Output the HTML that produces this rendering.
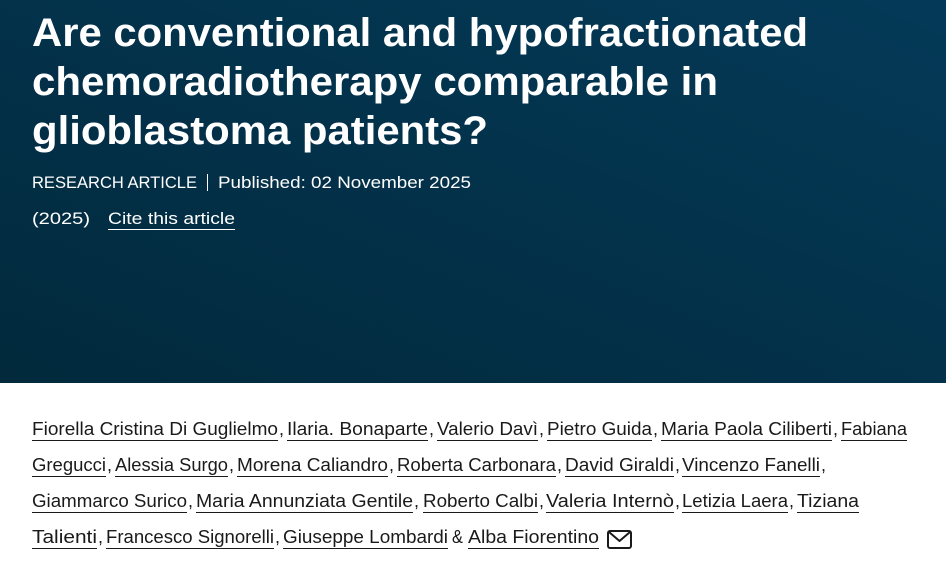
<!DOCTYPE html>
<html><head><meta charset="utf-8">
<style>
html,body{margin:0;padding:0;background:#fff;}
body{width:946px;height:569px;overflow:hidden;}
svg{display:block;}
</style></head>
<body>
<svg width="946" height="569" viewBox="0 0 946 569" xmlns="http://www.w3.org/2000/svg">
<defs>
<linearGradient id="bg" x1="0" y1="1" x2="1" y2="0">
<stop offset="0" stop-color="#02293c"/>
<stop offset="1" stop-color="#043a58"/>
</linearGradient>
</defs>
<rect x="0" y="0" width="946" height="383" fill="url(#bg)"/>
<rect x="0" y="383" width="946" height="186" fill="#fff"/>

<g font-family="'Liberation Sans', sans-serif" font-weight="bold" font-size="40" fill="#fff">
<text x="32" y="46" textLength="776" lengthAdjust="spacingAndGlyphs">Are conventional and hypofractionated</text>
<text x="32" y="95" textLength="686" lengthAdjust="spacingAndGlyphs">chemoradiotherapy comparable in</text>
<text x="32" y="144" textLength="456" lengthAdjust="spacingAndGlyphs">glioblastoma patients?</text>
</g>

<g font-family="'Liberation Sans', sans-serif" font-size="17" fill="#fff">
<text x="32" y="188" textLength="165" lengthAdjust="spacingAndGlyphs">RESEARCH ARTICLE</text>
<rect x="207" y="174" width="1" height="17" fill="#fff"/>
<text x="218" y="188" textLength="253" lengthAdjust="spacingAndGlyphs">Published: 02 November 2025</text>
<text x="32" y="224" textLength="58" lengthAdjust="spacingAndGlyphs">(2025)</text>
<text x="108" y="224" textLength="127" lengthAdjust="spacingAndGlyphs">Cite this article</text>
<rect x="108" y="229" width="127" height="1" fill="#fff"/>
</g>

<g font-family="'Liberation Sans', sans-serif" font-size="18" fill="#1a1a1a">
<!-- line 1 -->
<text x="32" y="435" textLength="246" lengthAdjust="spacingAndGlyphs">Fiorella Cristina Di Guglielmo</text>
<text x="279" y="435">,</text>
<text x="287" y="435" textLength="141" lengthAdjust="spacingAndGlyphs">Ilaria. Bonaparte</text>
<text x="429" y="435">,</text>
<text x="437" y="435" textLength="101" lengthAdjust="spacingAndGlyphs">Valerio Davì</text>
<text x="539" y="435">,</text>
<text x="547" y="435" textLength="105" lengthAdjust="spacingAndGlyphs">Pietro Guida</text>
<text x="653" y="435">,</text>
<text x="661" y="435" textLength="171" lengthAdjust="spacingAndGlyphs">Maria Paola Ciliberti</text>
<text x="833" y="435">,</text>
<text x="841" y="435" textLength="66" lengthAdjust="spacingAndGlyphs">Fabiana</text>
<!-- line 2 -->
<text x="32" y="471" textLength="74" lengthAdjust="spacingAndGlyphs">Gregucci</text>
<text x="107" y="471">,</text>
<text x="115" y="471" textLength="113" lengthAdjust="spacingAndGlyphs">Alessia Surgo</text>
<text x="229" y="471">,</text>
<text x="237" y="471" textLength="151" lengthAdjust="spacingAndGlyphs">Morena Caliandro</text>
<text x="389" y="471">,</text>
<text x="397" y="471" textLength="159" lengthAdjust="spacingAndGlyphs">Roberta Carbonara</text>
<text x="557" y="471">,</text>
<text x="565" y="471" textLength="109" lengthAdjust="spacingAndGlyphs">David Giraldi</text>
<text x="675" y="471">,</text>
<text x="682" y="471" textLength="138" lengthAdjust="spacingAndGlyphs">Vincenzo Fanelli</text>
<text x="821" y="471">,</text>
<!-- line 3 -->
<text x="32" y="507" textLength="155" lengthAdjust="spacingAndGlyphs">Giammarco Surico</text>
<text x="188" y="507">,</text>
<text x="196" y="507" textLength="217" lengthAdjust="spacingAndGlyphs">Maria Annunziata Gentile</text>
<text x="414" y="507">,</text>
<text x="423" y="507" textLength="115" lengthAdjust="spacingAndGlyphs">Roberto Calbi</text>
<text x="539" y="507">,</text>
<text x="546" y="507" textLength="128" lengthAdjust="spacingAndGlyphs">Valeria Internò</text>
<text x="675" y="507">,</text>
<text x="682" y="507" textLength="106" lengthAdjust="spacingAndGlyphs">Letizia Laera</text>
<text x="789" y="507">,</text>
<text x="797" y="507" textLength="62" lengthAdjust="spacingAndGlyphs">Tiziana</text>
<!-- line 4 -->
<text x="32" y="543" textLength="65" lengthAdjust="spacingAndGlyphs">Talienti</text>
<text x="98" y="543">,</text>
<text x="106" y="543" textLength="168" lengthAdjust="spacingAndGlyphs">Francesco Signorelli</text>
<text x="275" y="543">,</text>
<text x="283" y="543" textLength="165" lengthAdjust="spacingAndGlyphs">Giuseppe Lombardi</text>
<text x="452" y="543" textLength="11" lengthAdjust="spacingAndGlyphs">&amp;</text>
<text x="468" y="543" textLength="131" lengthAdjust="spacingAndGlyphs">Alba Fiorentino</text>
</g>

<g fill="#1a1a1a">
<rect x="32" y="440" width="246" height="1"/>
<rect x="287" y="440" width="141" height="1"/>
<rect x="437" y="440" width="101" height="1"/>
<rect x="547" y="440" width="105" height="1"/>
<rect x="661" y="440" width="171" height="1"/>
<rect x="841" y="440" width="66" height="1"/>
<rect x="32" y="476" width="74" height="1"/>
<rect x="115" y="476" width="113" height="1"/>
<rect x="237" y="476" width="151" height="1"/>
<rect x="397" y="476" width="159" height="1"/>
<rect x="565" y="476" width="109" height="1"/>
<rect x="682" y="476" width="138" height="1"/>
<rect x="32" y="512" width="155" height="1"/>
<rect x="196" y="512" width="217" height="1"/>
<rect x="423" y="512" width="115" height="1"/>
<rect x="546" y="512" width="128" height="1"/>
<rect x="682" y="512" width="106" height="1"/>
<rect x="797" y="512" width="62" height="1"/>
<rect x="32" y="548" width="65" height="1"/>
<rect x="106" y="548" width="168" height="1"/>
<rect x="283" y="548" width="165" height="1"/>
<rect x="468" y="548" width="131" height="1"/>
</g>

<g fill="none" stroke="#1a1a1a" stroke-width="2" stroke-linejoin="round">
<rect x="608" y="531" width="23" height="17" rx="2"/>
<polyline points="609,532 619.5,541 630,532"/>
</g>
</svg>
</body></html>
